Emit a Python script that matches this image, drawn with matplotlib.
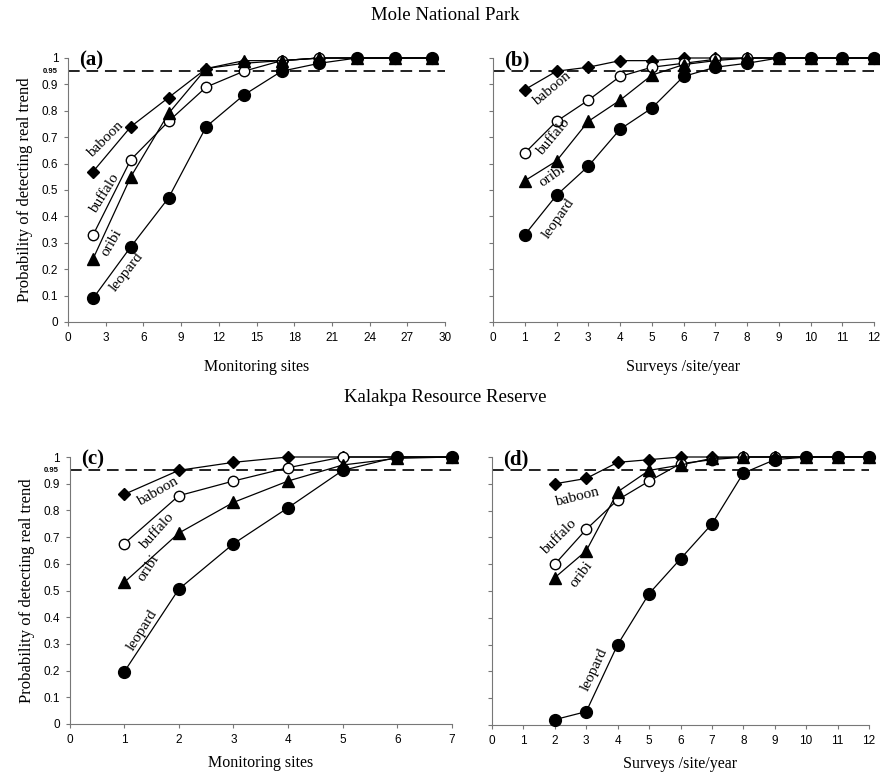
import matplotlib
matplotlib.use("Agg")
import matplotlib.pyplot as plt
import numpy as np

# ---------------- data ----------------
species = ["baboon", "buffalo", "oribi", "leopard"]

# (a) Mole - monitoring sites
a_x = [2, 5, 8, 11, 14, 17, 20, 23, 26, 29]
a_baboon = [0.57, 0.74, 0.85, 0.96, 0.98, 0.99, 1.0, 1.0, 1.0, 1.0]
a_buffalo = [0.33, 0.615, 0.76, 0.89, 0.95, 0.99, 1.0, 1.0, 1.0, 1.0]
a_oribi = [0.24, 0.55, 0.79, 0.96, 0.99, 0.99, 1.0, 1.0, 1.0, 1.0]
a_leopard = [0.09, 0.285, 0.47, 0.74, 0.86, 0.95, 0.98, 1.0, 1.0, 1.0]

# (b) Mole - surveys/site/year
b_x = [1, 2, 3, 4, 5, 6, 7, 8, 9, 10, 11, 12]
b_baboon = [0.88, 0.95, 0.965, 0.99, 0.99, 1.0, 1.0, 1.0, 1.0, 1.0, 1.0, 1.0]
b_buffalo = [0.64, 0.76, 0.84, 0.93, 0.965, 0.98, 0.995, 1.0, 1.0, 1.0, 1.0, 1.0]
b_oribi = [0.535, 0.61, 0.76, 0.84, 0.935, 0.975, 0.99, 1.0, 1.0, 1.0, 1.0, 1.0]
b_leopard = [0.33, 0.48, 0.59, 0.73, 0.81, 0.93, 0.965, 0.98, 1.0, 1.0, 1.0, 1.0]

# (c) Kalakpa - monitoring sites
c_x = [1, 2, 3, 4, 5, 6, 7]
c_baboon = [0.86, 0.95, 0.98, 1.0, 1.0, 1.0, 1.0]
c_buffalo = [0.675, 0.855, 0.91, 0.96, 1.0, 1.0, 1.0]
c_oribi = [0.53, 0.715, 0.83, 0.91, 0.97, 0.995, 1.0]
c_leopard = [0.195, 0.505, 0.675, 0.81, 0.95, 1.0, 1.0]

# (d) Kalakpa - surveys/site/year
d_x = [2, 3, 4, 5, 6, 7, 8, 9, 10, 11, 12]
d_baboon = [0.90, 0.92, 0.98, 0.99, 1.0, 1.0, 1.0, 1.0, 1.0, 1.0, 1.0]
d_buffalo = [0.60, 0.73, 0.84, 0.91, 0.975, 0.99, 1.0, 1.0, 1.0, 1.0, 1.0]
d_oribi = [0.55, 0.65, 0.87, 0.95, 0.97, 0.995, 1.0, 1.0, 1.0, 1.0, 1.0]
d_leopard = [0.02, 0.05, 0.30, 0.49, 0.62, 0.75, 0.94, 0.99, 1.0, 1.0, 1.0]

threshold = 0.95
y_ticks = [0, 0.1, 0.2, 0.3, 0.4, 0.5, 0.6, 0.7, 0.8, 0.9, 1]
y_ticklabels = ["0", "0.1", "0.2", "0.3", "0.4", "0.5", "0.6", "0.7", "0.8", "0.9", "1"]

# label placement (x, y, rotation) per panel, in data coords
a_labels = [(3.0, 0.69, 45), (2.95, 0.485, 58), (3.5, 0.30, 60), (4.7, 0.19, 52)]
b_labels = [(1.85, 0.885, 40), (1.9, 0.70, 50), (1.85, 0.555, 35), (2.05, 0.392, 55)]
c_labels = [(1.62, 0.87, 30), (1.6, 0.72, 48), (1.45, 0.584, 57), (1.33, 0.352, 58)]
d_labels = [(2.7, 0.852, 14), (2.13, 0.70, 45), (2.85, 0.562, 53), (3.25, 0.205, 65)]

SERIF = "Liberation Serif"
SANS = "Liberation Sans"

fig = plt.figure(figsize=(8.8, 7.8), dpi=100)

ax_a = fig.add_axes([68/880, 1-322/780, (445-68)/880, 264/780])
ax_b = fig.add_axes([493/880, 1-322/780, (874-493)/880, 264/780])
ax_c = fig.add_axes([69.5/880, 1-724/780, (452-69.5)/880, 267/780])
ax_d = fig.add_axes([492/880, 1-725/780, (869-492)/880, 268/780])

styles = [
    dict(marker="D", ms=6, mfc="black", mec="black"),
    dict(marker="o", ms=7.5, mfc="white", mec="black", mew=1.0),
    dict(marker="^", ms=8, mfc="black", mec="black"),
    dict(marker="o", ms=8.5, mfc="black", mec="black"),
]

def draw(ax, x, series, labels, xlim, xticks, xlabel, tag, show_y, xlabelpad):
    for s, st, (lx, ly, rot), name in zip(series, styles, labels, species):
        ax.plot(x, s, color="black", lw=0.9, clip_on=False, zorder=3, **st)
        ax.text(lx, ly, name, rotation=rot, ha="center", va="center",
                fontsize=11, family=SERIF, rotation_mode="anchor", zorder=4)
    ax.axhline(threshold, color="#222222", lw=1.4, ls=(0, (6, 3.5)), zorder=2)
    ax.set_xlim(*xlim)
    ax.set_ylim(0, 1)
    ax.set_xticks(xticks)
    ax.set_xticklabels([str(t) for t in xticks], fontsize=8.5, family=SANS)
    ax.set_yticks(y_ticks)
    if show_y:
        ax.set_yticklabels(y_ticklabels, fontsize=8.5, family=SANS)
        ax.set_ylabel("Probability of detecting real trend", fontsize=12,
                      family=SERIF, labelpad=6)
        ax.text(-0.028, threshold, "0.95", transform=ax.get_yaxis_transform(),
                ha="right", va="center", fontsize=5.5, fontweight="bold", family=SANS)
    else:
        ax.set_yticklabels([])
    ax.set_xlabel(xlabel, fontsize=11.5, family=SERIF, labelpad=xlabelpad)
    for sp in ["top", "right"]:
        ax.spines[sp].set_visible(False)
    for sp in ["left", "bottom"]:
        ax.spines[sp].set_color("#777777")
        ax.spines[sp].set_linewidth(0.8)
    ax.tick_params(axis="both", direction="out", length=3, width=0.8,
                   color="#777777", pad=4)
    ax.text(0.03, 0.99, tag, transform=ax.transAxes, fontsize=15,
            fontweight="bold", family=SERIF, ha="left", va="center", zorder=5)

draw(ax_a, a_x, [a_baboon, a_buffalo, a_oribi, a_leopard], a_labels,
     (0, 30), list(range(0, 31, 3)), "Monitoring sites", "(a)", True, 11)
draw(ax_b, b_x, [b_baboon, b_buffalo, b_oribi, b_leopard], b_labels,
     (0, 12), list(range(0, 13)), "Surveys /site/year", "(b)", False, 11)
draw(ax_c, c_x, [c_baboon, c_buffalo, c_oribi, c_leopard], c_labels,
     (0, 7), list(range(0, 8)), "Monitoring sites", "(c)", True, 7)
draw(ax_d, d_x, [d_baboon, d_buffalo, d_oribi, d_leopard], d_labels,
     (0, 12), list(range(0, 13)), "Surveys /site/year", "(d)", False, 7)

fig.text(445/880, 1-15/780, "Mole National Park", ha="center", va="center",
         fontsize=13.5, family=SERIF)
fig.text(445/880, 1-398/780, "Kalakpa Resource Reserve", ha="center", va="center",
         fontsize=13.5, family=SERIF)

fig.savefig("out.png", dpi=100)
